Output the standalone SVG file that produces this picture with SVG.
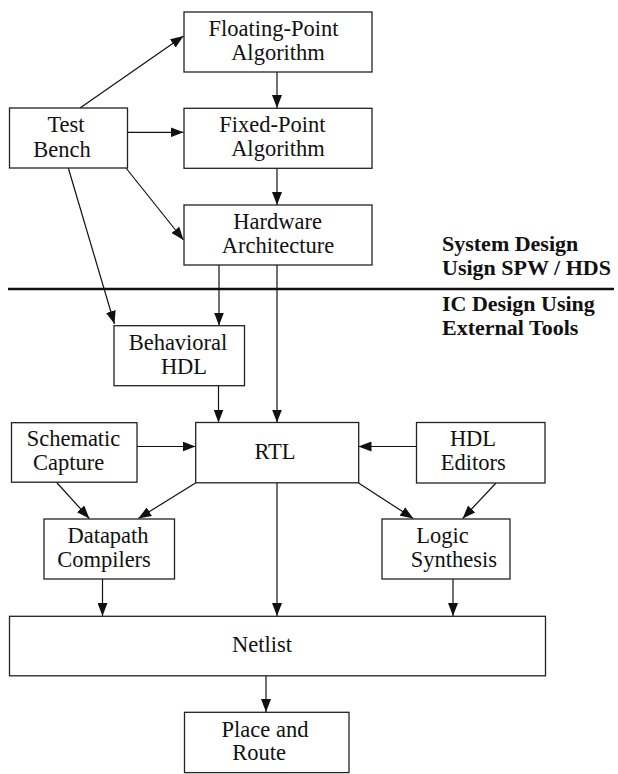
<svg xmlns="http://www.w3.org/2000/svg" width="618" height="774" viewBox="0 0 618 774">
<style>
.box{fill:#fff;stroke:#222;stroke-width:1.3}
.c{stroke:#111;stroke-width:1.2;fill:none;marker-end:url(#ah)}
</style>
<defs>
<marker id="ah" markerUnits="userSpaceOnUse" markerWidth="13" markerHeight="10" refX="13" refY="5" orient="auto">
<path d="M0,0 L13,5 L0,10 z" fill="#111"/>
</marker>
</defs>
<rect width="618" height="774" fill="#fff"/>
<g id="connectors">
<line class="c" x1="277" y1="72" x2="277" y2="108"/>
<line class="c" x1="277" y1="168" x2="277" y2="205"/>
<line class="c" x1="80" y1="108" x2="183.5" y2="36"/>
<line class="c" x1="126" y1="132.3" x2="183.5" y2="132.3"/>
<line class="c" x1="126" y1="168" x2="183.5" y2="240"/>
<line class="c" x1="68.3" y1="168" x2="114.5" y2="324"/>
<line class="c" x1="219" y1="265" x2="219" y2="325.5"/>
<line class="c" x1="277" y1="265" x2="277" y2="422.5"/>
<line class="c" x1="218.5" y1="386" x2="218.5" y2="422.5"/>
<line class="c" x1="137" y1="446.5" x2="195.5" y2="446.5"/>
<line class="c" x1="416" y1="446.5" x2="358.5" y2="446.5"/>
<line class="c" x1="56.7" y1="482.5" x2="89.3" y2="518.5"/>
<line class="c" x1="195.5" y1="483" x2="138.3" y2="518.5"/>
<line class="c" x1="358.5" y1="483" x2="413.3" y2="518.5"/>
<line class="c" x1="496" y1="483" x2="462.7" y2="518.5"/>
<line class="c" x1="102.5" y1="579" x2="102.5" y2="616"/>
<line class="c" x1="277" y1="483" x2="277" y2="616"/>
<line class="c" x1="453" y1="579" x2="453" y2="616"/>
<line class="c" x1="266" y1="676" x2="266" y2="712"/>
</g>
<g id="separator" font-family="Liberation Serif, serif" font-size="22" font-weight="bold" fill="#111">
<line x1="8" y1="289" x2="614" y2="289" stroke="#111" stroke-width="2.6"/>
<text x="442" y="251">System Design</text>
<text x="442" y="275">Usign SPW / HDS</text>
<text x="442" y="311">IC Design Using</text>
<text x="442" y="335">External Tools</text>
</g>
<g id="nodes" font-family="Liberation Serif, serif" font-size="22.5" text-anchor="middle" fill="#111">
<g id="floating-point">
<rect class="box" x="184" y="12" width="188" height="60"/>
<text x="273.5" y="35.7">Floating-Point</text>
<text x="278" y="59.5">Algorithm</text>
</g>
<g id="test-bench">
<rect class="box" x="9.5" y="108" width="118" height="60"/>
<text x="66" y="132.3">Test</text>
<text x="62" y="156.5">Bench</text>
</g>
<g id="fixed-point">
<rect class="box" x="184" y="108.3" width="188" height="60"/>
<text x="272.5" y="132.3">Fixed-Point</text>
<text x="278" y="156">Algorithm</text>
</g>
<g id="hardware">
<rect class="box" x="184" y="205" width="188" height="60"/>
<text x="277.7" y="229.3">Hardware</text>
<text x="278" y="252.5">Architecture</text>
</g>
<g id="behavioral">
<rect class="box" x="114" y="325.7" width="130.5" height="60"/>
<text x="178" y="350">Behavioral</text>
<text x="184" y="373.5">HDL</text>
</g>
<g id="rtl">
<rect class="box" x="195.7" y="422.5" width="163" height="60.3"/>
<text x="275" y="458.5">RTL</text>
</g>
<g id="schematic">
<rect class="box" x="11.5" y="422.7" width="125.5" height="59.5"/>
<text x="73.5" y="446">Schematic</text>
<text x="68.7" y="470">Capture</text>
</g>
<g id="hdl-editors">
<rect class="box" x="416.5" y="422.5" width="128.5" height="60.5"/>
<text x="473" y="445.7">HDL</text>
<text x="473.3" y="470">Editors</text>
</g>
<g id="datapath">
<rect class="box" x="44" y="519" width="130.5" height="60"/>
<text x="108" y="542.7">Datapath</text>
<text x="104" y="566.7">Compilers</text>
</g>
<g id="logic">
<rect class="box" x="382" y="519" width="128" height="60"/>
<text x="442.5" y="543.3">Logic</text>
<text x="454" y="566.7">Synthesis</text>
</g>
<g id="netlist">
<rect class="box" x="9.5" y="616.3" width="536" height="59.5"/>
<text x="262" y="651.7">Netlist</text>
</g>
<g id="place-route">
<rect class="box" x="184.5" y="712.3" width="164.5" height="60.3"/>
<text x="265" y="736.7">Place and</text>
<text x="259" y="760">Route</text>
</g>
</g>
</svg>
